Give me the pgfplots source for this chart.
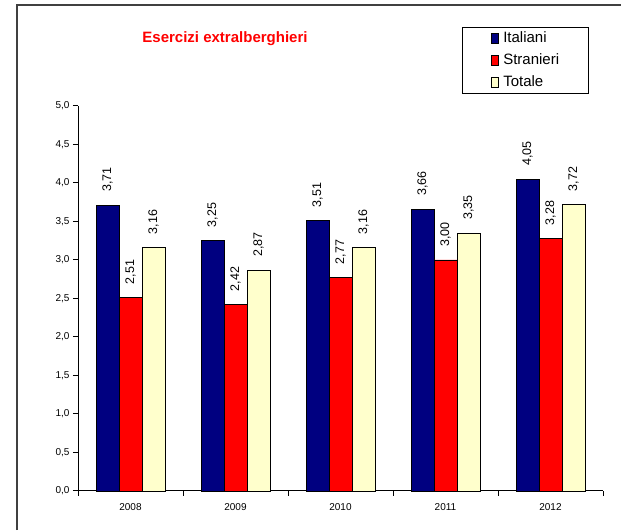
\documentclass[border=0pt]{standalone}
\usepackage{fontspec}
\setmainfont{Liberation Sans}
\usepackage{pgfplots}
\pgfplotsset{compat=1.18}
\definecolor{cIta}{RGB}{0,0,128}
\definecolor{cStr}{RGB}{255,0,0}
\definecolor{cTot}{RGB}{255,255,204}
\definecolor{cFrame}{RGB}{64,64,64}

\pgfplotsset{
  legsq/.style={legend image code/.code={\draw[##1,line width=0.8pt,draw=black] (0pt,-5pt) rectangle (7pt,5pt);}},
}

\begin{document}
\begin{tikzpicture}
\useasboundingbox (0,0) rectangle (621pt,530pt);
\draw[cFrame, line width=2pt] (17pt,0) -- (17pt,525pt) -- (621pt,525pt);
\node[text=red, font=\bfseries\fontsize{15}{15}\selectfont] at (225pt,491.5pt) {Esercizi extralberghieri};
\begin{axis}[
  at={(78pt,39pt)}, anchor=south west,
  scale only axis, width=525pt, height=385pt,
  xmin=-0.5, xmax=4.5, ymin=0, ymax=5,
  axis x line*=bottom, axis y line*=left,
  axis line style={line width=1pt},
  ybar=0pt, bar width=23pt,
  xtick={0,1,2,3,4},
  xticklabels={2008,2009,2010,2011,2012},
  minor xtick={-0.5,0.5,1.5,2.5,3.5,4.5},
  major x tick style={draw=none},
  minor tick length=5pt, major tick length=5pt,
  tick align=outside,
  tick style={black, line width=1pt},
  ytick={0,0.5,...,5},
  yticklabel={\pgfmathprintnumber[assume math mode=true,use comma,fixed,fixed zerofill,precision=1]{\tick}},
  ticklabel style={font=\fontsize{10}{10}\selectfont},
  xticklabel style={yshift=-4pt},
  nodes near coords={\pgfmathprintnumber[assume math mode=true,use comma,fixed,fixed zerofill,precision=2]{\pgfplotspointmeta}},
  every node near coord/.append style={rotate=90, anchor=west, inner xsep=13pt, inner ysep=0pt, font=\fontsize{12.5}{12.5}\selectfont, black},
  clip=false,
  legend style={at={(0.7314,1.2052)}, anchor=north west, draw=black, line width=1pt,
    inner xsep=29pt, inner ysep=4pt, row sep=8pt,
    font=\fontsize{15}{15}\selectfont,
    nodes={inner sep=0pt, text height=11pt, text depth=3pt},
    cells={anchor=west},
    /tikz/every odd column/.append style={column sep=4pt}},
]
\addplot[fill=cIta, draw=black, line width=0.8pt, legsq] coordinates {(0,3.71)(1,3.25)(2,3.51)(3,3.66)(4,4.05)};
\addlegendentry{Italiani}
\addplot[fill=cStr, draw=black, line width=0.8pt, legsq] coordinates {(0,2.51)(1,2.42)(2,2.77)(3,3.00)(4,3.28)};
\addlegendentry{Stranieri}
\addplot[fill=cTot, draw=black, line width=0.8pt, legsq] coordinates {(0,3.16)(1,2.87)(2,3.16)(3,3.35)(4,3.72)};
\addlegendentry{Totale}
\end{axis}
\end{tikzpicture}
\end{document}
